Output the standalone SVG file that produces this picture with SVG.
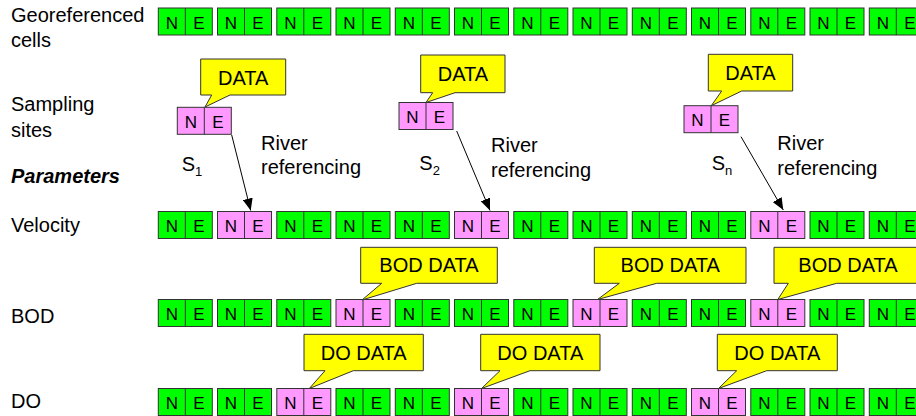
<svg xmlns="http://www.w3.org/2000/svg" width="916" height="416" viewBox="0 0 916 416">
<defs>
<style>
.lbl{font-family:"Liberation Sans",Arial,sans-serif;font-size:20px;fill:#000}
.bi{font-weight:bold;font-style:italic}
.c{font-family:"Liberation Sans",Arial,sans-serif;font-size:17px;fill:#000;text-anchor:middle}
.ct{font-family:"Liberation Sans",Arial,sans-serif;font-size:20px;fill:#000;text-anchor:middle}
.g{fill:#00FF00;stroke:#333;stroke-width:1}
.p{fill:#FF99FF;stroke:#333;stroke-width:1}
.dv{stroke:#333;stroke-width:1}
.co{fill:#FFFF00;stroke:#333;stroke-width:1}
.ar{stroke:#000;stroke-width:1;fill:none;marker-end:url(#ah)}
</style>
<marker id="ah" viewBox="0 0 12 10" refX="12" refY="5" markerWidth="12" markerHeight="10" markerUnits="userSpaceOnUse" orient="auto">
<path d="M0,0 L12,5 L0,10 Z" fill="#000"/>
</marker>
</defs>
<rect width="916" height="416" fill="#fff"/>

<g id="labels">
<text class="lbl" x="11" y="21.7">Georeferenced</text>
<text class="lbl" x="11" y="46.7">cells</text>
<text class="lbl" x="11" y="110.7">Sampling</text>
<text class="lbl" x="11" y="136.7">sites</text>
<text class="lbl bi" x="11" y="182.7">Parameters</text>
<text class="lbl" x="11" y="231.7">Velocity</text>
<text class="lbl" x="11" y="322.7">BOD</text>
<text class="lbl" x="11" y="407.7">DO</text>
</g>

<!-- Row 0: georeferenced cells -->
<g id="row-geo">
<g id="geo-0"><rect class="g" x="158.3" y="8" width="54" height="27"/><line class="dv" x1="185.3" y1="8" x2="185.3" y2="35"/><text class="c" x="171.8" y="28.5">N</text><text class="c" x="198.8" y="28.5">E</text></g>
<g id="geo-1"><rect class="g" x="217.5" y="8" width="54" height="27"/><line class="dv" x1="244.5" y1="8" x2="244.5" y2="35"/><text class="c" x="231" y="28.5">N</text><text class="c" x="258" y="28.5">E</text></g>
<g id="geo-2"><rect class="g" x="276.8" y="8" width="54" height="27"/><line class="dv" x1="303.8" y1="8" x2="303.8" y2="35"/><text class="c" x="290.3" y="28.5">N</text><text class="c" x="317.3" y="28.5">E</text></g>
<g id="geo-3"><rect class="g" x="336" y="8" width="54" height="27"/><line class="dv" x1="363" y1="8" x2="363" y2="35"/><text class="c" x="349.5" y="28.5">N</text><text class="c" x="376.5" y="28.5">E</text></g>
<g id="geo-4"><rect class="g" x="395.3" y="8" width="54" height="27"/><line class="dv" x1="422.3" y1="8" x2="422.3" y2="35"/><text class="c" x="408.8" y="28.5">N</text><text class="c" x="435.8" y="28.5">E</text></g>
<g id="geo-5"><rect class="g" x="454.5" y="8" width="54" height="27"/><line class="dv" x1="481.5" y1="8" x2="481.5" y2="35"/><text class="c" x="468" y="28.5">N</text><text class="c" x="495" y="28.5">E</text></g>
<g id="geo-6"><rect class="g" x="513.8" y="8" width="54" height="27"/><line class="dv" x1="540.8" y1="8" x2="540.8" y2="35"/><text class="c" x="527.3" y="28.5">N</text><text class="c" x="554.3" y="28.5">E</text></g>
<g id="geo-7"><rect class="g" x="573" y="8" width="54" height="27"/><line class="dv" x1="600" y1="8" x2="600" y2="35"/><text class="c" x="586.5" y="28.5">N</text><text class="c" x="613.5" y="28.5">E</text></g>
<g id="geo-8"><rect class="g" x="632.3" y="8" width="54" height="27"/><line class="dv" x1="659.3" y1="8" x2="659.3" y2="35"/><text class="c" x="645.8" y="28.5">N</text><text class="c" x="672.8" y="28.5">E</text></g>
<g id="geo-9"><rect class="g" x="691.5" y="8" width="54" height="27"/><line class="dv" x1="718.5" y1="8" x2="718.5" y2="35"/><text class="c" x="705" y="28.5">N</text><text class="c" x="732" y="28.5">E</text></g>
<g id="geo-10"><rect class="g" x="750.8" y="8" width="54" height="27"/><line class="dv" x1="777.8" y1="8" x2="777.8" y2="35"/><text class="c" x="764.3" y="28.5">N</text><text class="c" x="791.3" y="28.5">E</text></g>
<g id="geo-11"><rect class="g" x="810" y="8" width="54" height="27"/><line class="dv" x1="837" y1="8" x2="837" y2="35"/><text class="c" x="823.5" y="28.5">N</text><text class="c" x="850.5" y="28.5">E</text></g>
<g id="geo-12"><rect class="g" x="869.3" y="8" width="54" height="27"/><line class="dv" x1="896.3" y1="8" x2="896.3" y2="35"/><text class="c" x="882.8" y="28.5">N</text><text class="c" x="909.8" y="28.5">E</text></g>
</g>

<!-- Sampling sites -->
<g id="site-1"><rect class="p" x="177.3" y="107.3" width="54" height="27"/><line class="dv" x1="204.3" y1="107.3" x2="204.3" y2="134.3"/><text class="c" x="190.8" y="127.8">N</text><text class="c" x="217.8" y="127.8">E</text></g>
<g id="site-2"><rect class="p" x="399" y="102.5" width="54" height="27"/><line class="dv" x1="426" y1="102.5" x2="426" y2="129.5"/><text class="c" x="412.5" y="123">N</text><text class="c" x="439.5" y="123">E</text></g>
<g id="site-n"><rect class="p" x="684" y="105.7" width="54" height="27"/><line class="dv" x1="711" y1="105.7" x2="711" y2="132.7"/><text class="c" x="697.5" y="126.2">N</text><text class="c" x="724.5" y="126.2">E</text></g>

<g id="site-labels">
<text class="lbl" x="181.7" y="170.7">S<tspan font-size="13" dy="5">1</tspan></text>
<text class="lbl" x="419.3" y="170">S<tspan font-size="13" dy="5">2</tspan></text>
<text class="lbl" x="711.7" y="170">S<tspan font-size="13" dy="5">n</tspan></text>
<text class="lbl" x="261" y="150">River</text>
<text class="lbl" x="261" y="174">referencing</text>
<text class="lbl" x="491" y="152">River</text>
<text class="lbl" x="491" y="177">referencing</text>
<text class="lbl" x="777.3" y="150">River</text>
<text class="lbl" x="777.3" y="174.5">referencing</text>
</g>

<!-- Row 1: velocity -->
<g id="row-velocity">
<g id="vel-0"><rect class="g" x="158.3" y="211.5" width="54" height="27"/><line class="dv" x1="185.3" y1="211.5" x2="185.3" y2="238.5"/><text class="c" x="171.8" y="232">N</text><text class="c" x="198.8" y="232">E</text></g>
<g id="vel-1"><rect class="p" x="217.5" y="211.5" width="54" height="27"/><line class="dv" x1="244.5" y1="211.5" x2="244.5" y2="238.5"/><text class="c" x="231" y="232">N</text><text class="c" x="258" y="232">E</text></g>
<g id="vel-2"><rect class="g" x="276.8" y="211.5" width="54" height="27"/><line class="dv" x1="303.8" y1="211.5" x2="303.8" y2="238.5"/><text class="c" x="290.3" y="232">N</text><text class="c" x="317.3" y="232">E</text></g>
<g id="vel-3"><rect class="g" x="336" y="211.5" width="54" height="27"/><line class="dv" x1="363" y1="211.5" x2="363" y2="238.5"/><text class="c" x="349.5" y="232">N</text><text class="c" x="376.5" y="232">E</text></g>
<g id="vel-4"><rect class="g" x="395.3" y="211.5" width="54" height="27"/><line class="dv" x1="422.3" y1="211.5" x2="422.3" y2="238.5"/><text class="c" x="408.8" y="232">N</text><text class="c" x="435.8" y="232">E</text></g>
<g id="vel-5"><rect class="p" x="454.5" y="211.5" width="54" height="27"/><line class="dv" x1="481.5" y1="211.5" x2="481.5" y2="238.5"/><text class="c" x="468" y="232">N</text><text class="c" x="495" y="232">E</text></g>
<g id="vel-6"><rect class="g" x="513.8" y="211.5" width="54" height="27"/><line class="dv" x1="540.8" y1="211.5" x2="540.8" y2="238.5"/><text class="c" x="527.3" y="232">N</text><text class="c" x="554.3" y="232">E</text></g>
<g id="vel-7"><rect class="g" x="573" y="211.5" width="54" height="27"/><line class="dv" x1="600" y1="211.5" x2="600" y2="238.5"/><text class="c" x="586.5" y="232">N</text><text class="c" x="613.5" y="232">E</text></g>
<g id="vel-8"><rect class="g" x="632.3" y="211.5" width="54" height="27"/><line class="dv" x1="659.3" y1="211.5" x2="659.3" y2="238.5"/><text class="c" x="645.8" y="232">N</text><text class="c" x="672.8" y="232">E</text></g>
<g id="vel-9"><rect class="g" x="691.5" y="211.5" width="54" height="27"/><line class="dv" x1="718.5" y1="211.5" x2="718.5" y2="238.5"/><text class="c" x="705" y="232">N</text><text class="c" x="732" y="232">E</text></g>
<g id="vel-10"><rect class="p" x="750.8" y="211.5" width="54" height="27"/><line class="dv" x1="777.8" y1="211.5" x2="777.8" y2="238.5"/><text class="c" x="764.3" y="232">N</text><text class="c" x="791.3" y="232">E</text></g>
<g id="vel-11"><rect class="g" x="810" y="211.5" width="54" height="27"/><line class="dv" x1="837" y1="211.5" x2="837" y2="238.5"/><text class="c" x="823.5" y="232">N</text><text class="c" x="850.5" y="232">E</text></g>
<g id="vel-12"><rect class="g" x="869.3" y="211.5" width="54" height="27"/><line class="dv" x1="896.3" y1="211.5" x2="896.3" y2="238.5"/><text class="c" x="882.8" y="232">N</text><text class="c" x="909.8" y="232">E</text></g>
</g>

<!-- Row 2: BOD -->
<g id="row-bod">
<g id="bod-0"><rect class="g" x="158.3" y="299.5" width="54" height="27"/><line class="dv" x1="185.3" y1="299.5" x2="185.3" y2="326.5"/><text class="c" x="171.8" y="320">N</text><text class="c" x="198.8" y="320">E</text></g>
<g id="bod-1"><rect class="g" x="217.5" y="299.5" width="54" height="27"/><line class="dv" x1="244.5" y1="299.5" x2="244.5" y2="326.5"/><text class="c" x="231" y="320">N</text><text class="c" x="258" y="320">E</text></g>
<g id="bod-2"><rect class="g" x="276.8" y="299.5" width="54" height="27"/><line class="dv" x1="303.8" y1="299.5" x2="303.8" y2="326.5"/><text class="c" x="290.3" y="320">N</text><text class="c" x="317.3" y="320">E</text></g>
<g id="bod-3"><rect class="p" x="336" y="299.5" width="54" height="27"/><line class="dv" x1="363" y1="299.5" x2="363" y2="326.5"/><text class="c" x="349.5" y="320">N</text><text class="c" x="376.5" y="320">E</text></g>
<g id="bod-4"><rect class="g" x="395.3" y="299.5" width="54" height="27"/><line class="dv" x1="422.3" y1="299.5" x2="422.3" y2="326.5"/><text class="c" x="408.8" y="320">N</text><text class="c" x="435.8" y="320">E</text></g>
<g id="bod-5"><rect class="g" x="454.5" y="299.5" width="54" height="27"/><line class="dv" x1="481.5" y1="299.5" x2="481.5" y2="326.5"/><text class="c" x="468" y="320">N</text><text class="c" x="495" y="320">E</text></g>
<g id="bod-6"><rect class="g" x="513.8" y="299.5" width="54" height="27"/><line class="dv" x1="540.8" y1="299.5" x2="540.8" y2="326.5"/><text class="c" x="527.3" y="320">N</text><text class="c" x="554.3" y="320">E</text></g>
<g id="bod-7"><rect class="p" x="573" y="299.5" width="54" height="27"/><line class="dv" x1="600" y1="299.5" x2="600" y2="326.5"/><text class="c" x="586.5" y="320">N</text><text class="c" x="613.5" y="320">E</text></g>
<g id="bod-8"><rect class="g" x="632.3" y="299.5" width="54" height="27"/><line class="dv" x1="659.3" y1="299.5" x2="659.3" y2="326.5"/><text class="c" x="645.8" y="320">N</text><text class="c" x="672.8" y="320">E</text></g>
<g id="bod-9"><rect class="g" x="691.5" y="299.5" width="54" height="27"/><line class="dv" x1="718.5" y1="299.5" x2="718.5" y2="326.5"/><text class="c" x="705" y="320">N</text><text class="c" x="732" y="320">E</text></g>
<g id="bod-10"><rect class="p" x="750.8" y="299.5" width="54" height="27"/><line class="dv" x1="777.8" y1="299.5" x2="777.8" y2="326.5"/><text class="c" x="764.3" y="320">N</text><text class="c" x="791.3" y="320">E</text></g>
<g id="bod-11"><rect class="g" x="810" y="299.5" width="54" height="27"/><line class="dv" x1="837" y1="299.5" x2="837" y2="326.5"/><text class="c" x="823.5" y="320">N</text><text class="c" x="850.5" y="320">E</text></g>
<g id="bod-12"><rect class="g" x="869.3" y="299.5" width="54" height="27"/><line class="dv" x1="896.3" y1="299.5" x2="896.3" y2="326.5"/><text class="c" x="882.8" y="320">N</text><text class="c" x="909.8" y="320">E</text></g>
</g>

<!-- Row 3: DO -->
<g id="row-do">
<g id="do-0"><rect class="g" x="158.3" y="388.5" width="54" height="27"/><line class="dv" x1="185.3" y1="388.5" x2="185.3" y2="415.5"/><text class="c" x="171.8" y="409">N</text><text class="c" x="198.8" y="409">E</text></g>
<g id="do-1"><rect class="g" x="217.5" y="388.5" width="54" height="27"/><line class="dv" x1="244.5" y1="388.5" x2="244.5" y2="415.5"/><text class="c" x="231" y="409">N</text><text class="c" x="258" y="409">E</text></g>
<g id="do-2"><rect class="p" x="276.8" y="388.5" width="54" height="27"/><line class="dv" x1="303.8" y1="388.5" x2="303.8" y2="415.5"/><text class="c" x="290.3" y="409">N</text><text class="c" x="317.3" y="409">E</text></g>
<g id="do-3"><rect class="g" x="336" y="388.5" width="54" height="27"/><line class="dv" x1="363" y1="388.5" x2="363" y2="415.5"/><text class="c" x="349.5" y="409">N</text><text class="c" x="376.5" y="409">E</text></g>
<g id="do-4"><rect class="g" x="395.3" y="388.5" width="54" height="27"/><line class="dv" x1="422.3" y1="388.5" x2="422.3" y2="415.5"/><text class="c" x="408.8" y="409">N</text><text class="c" x="435.8" y="409">E</text></g>
<g id="do-5"><rect class="p" x="454.5" y="388.5" width="54" height="27"/><line class="dv" x1="481.5" y1="388.5" x2="481.5" y2="415.5"/><text class="c" x="468" y="409">N</text><text class="c" x="495" y="409">E</text></g>
<g id="do-6"><rect class="g" x="513.8" y="388.5" width="54" height="27"/><line class="dv" x1="540.8" y1="388.5" x2="540.8" y2="415.5"/><text class="c" x="527.3" y="409">N</text><text class="c" x="554.3" y="409">E</text></g>
<g id="do-7"><rect class="g" x="573" y="388.5" width="54" height="27"/><line class="dv" x1="600" y1="388.5" x2="600" y2="415.5"/><text class="c" x="586.5" y="409">N</text><text class="c" x="613.5" y="409">E</text></g>
<g id="do-8"><rect class="g" x="632.3" y="388.5" width="54" height="27"/><line class="dv" x1="659.3" y1="388.5" x2="659.3" y2="415.5"/><text class="c" x="645.8" y="409">N</text><text class="c" x="672.8" y="409">E</text></g>
<g id="do-9"><rect class="p" x="691.5" y="388.5" width="54" height="27"/><line class="dv" x1="718.5" y1="388.5" x2="718.5" y2="415.5"/><text class="c" x="705" y="409">N</text><text class="c" x="732" y="409">E</text></g>
<g id="do-10"><rect class="g" x="750.8" y="388.5" width="54" height="27"/><line class="dv" x1="777.8" y1="388.5" x2="777.8" y2="415.5"/><text class="c" x="764.3" y="409">N</text><text class="c" x="791.3" y="409">E</text></g>
<g id="do-11"><rect class="g" x="810" y="388.5" width="54" height="27"/><line class="dv" x1="837" y1="388.5" x2="837" y2="415.5"/><text class="c" x="823.5" y="409">N</text><text class="c" x="850.5" y="409">E</text></g>
<g id="do-12"><rect class="g" x="869.3" y="388.5" width="54" height="27"/><line class="dv" x1="896.3" y1="388.5" x2="896.3" y2="415.5"/><text class="c" x="882.8" y="409">N</text><text class="c" x="909.8" y="409">E</text></g>
</g>

<!-- Callouts -->
<g id="callout-data-1"><path class="co" d="M200.7,59 H285.7 V95 H230 L205,107 L211.7,95 H200.7 Z"/><text class="ct" x="243.2" y="85">DATA</text></g>
<g id="callout-data-2"><path class="co" d="M420.7,55 H505 V92.7 H455 L426,102.5 L432.7,92.7 H420.7 Z"/><text class="ct" x="462.9" y="81">DATA</text></g>
<g id="callout-data-n"><path class="co" d="M708.3,54.3 H792.7 V91 H741.7 L711.3,105.7 L721.7,91 H708.3 Z"/><text class="ct" x="750.5" y="80">DATA</text></g>

<g id="callout-bod-1"><path class="co" d="M360.7,247.3 H497.3 V283.3 H416.7 L362,300 L381.7,283.3 H360.7 Z"/><text class="ct" x="429" y="272.3">BOD DATA</text></g>
<g id="callout-bod-2"><path class="co" d="M594.3,247.3 H746 V283.3 H656.7 L597.5,299.5 L619.3,283.3 H594.3 Z"/><text class="ct" x="670.2" y="272.3">BOD DATA</text></g>
<g id="callout-bod-3"><path class="co" d="M774,247.3 H922 V283.3 H836.7 L777.8,299.5 L788.3,283.3 H774 Z"/><text class="ct" x="848" y="272.3">BOD DATA</text></g>

<g id="callout-do-1"><path class="co" d="M304,334.3 H423.3 V370.7 H353.3 L309.3,388.5 L325,370.7 H304 Z"/><text class="ct" x="363.7" y="359.7">DO DATA</text></g>
<g id="callout-do-2"><path class="co" d="M480.7,334.3 H600 V370.7 H530 L481.5,388.5 L500,370.7 H480.7 Z"/><text class="ct" x="540.3" y="359.7">DO DATA</text></g>
<g id="callout-do-3"><path class="co" d="M717.3,334.3 H837.3 V370.7 H766.7 L718.5,388.5 L736.7,370.7 H717.3 Z"/><text class="ct" x="777.3" y="359.7">DO DATA</text></g>

<!-- Connectors -->
<g id="connectors">
<line class="ar" x1="231.7" y1="135" x2="250.7" y2="210.5"/>
<line class="ar" x1="456.7" y1="131" x2="490" y2="210.5"/>
<line class="ar" x1="741" y1="136.7" x2="783.3" y2="210"/>
</g>
</svg>
